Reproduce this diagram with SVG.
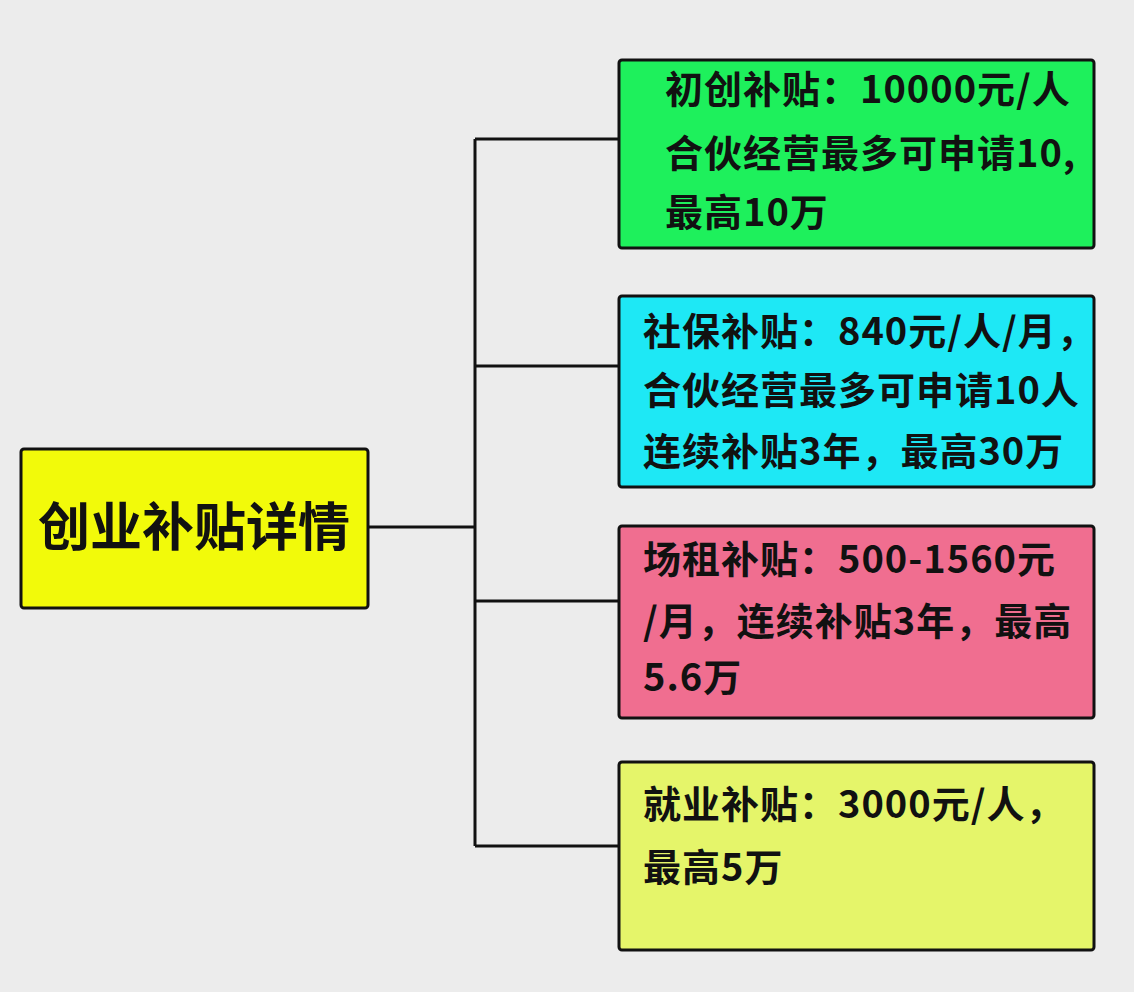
<svg xmlns="http://www.w3.org/2000/svg" width="1134" height="992" viewBox="0 0 1134 992">
<style>
.box{stroke:#111;stroke-width:3}
.t{font-family:"Noto Sans CJK SC","Noto Sans",sans-serif;font-weight:bold;font-size:38px;fill:#111;letter-spacing:1px}
.title{font-size:52px;letter-spacing:0}
.conn{fill:none;stroke:#111;stroke-width:3}
</style>
<rect width="1134" height="992" fill="#ececec"/>
<g id="connectors">
<path class="conn" d="M368 527 H475 M475 139 V846 M475 139 H619 M475 366 H619 M475 601 H619 M475 846 H619"/>
</g>
<g id="root">
<rect class="box" x="21" y="449" width="347" height="159" rx="3" fill="#f2fa0a"/>
<text class="t title" x="38" y="546">创业补贴详情</text>
</g>
<g id="n1">
<rect class="box" x="619" y="60" width="475" height="188" rx="3" fill="#1ef05c"/>
<text class="t" x="665" y="103">初创补贴：10000元/人</text>
<text class="t" x="665" y="167">合伙经营最多可申请10,</text>
<text class="t" x="665" y="226">最高10万</text>
</g>
<g id="n2">
<rect class="box" x="619" y="296" width="475" height="191" rx="3" fill="#1ee8f5"/>
<text class="t" x="643" y="345">社保补贴：840元/人/月，</text>
<text class="t" x="643" y="404">合伙经营最多可申请10人</text>
<text class="t" x="643" y="465">连续补贴3年，最高30万</text>
</g>
<g id="n3">
<rect class="box" x="619" y="526" width="475" height="192" rx="3" fill="#f06e90"/>
<text class="t" x="643" y="573">场租补贴：500-1560元</text>
<text class="t" x="643" y="635">/月，连续补贴3年，最高</text>
<text class="t" x="643" y="691">5.6万</text>
</g>
<g id="n4">
<rect class="box" x="619" y="762" width="475" height="188" rx="3" fill="#e5f56a"/>
<text class="t" x="643" y="818">就业补贴：3000元/人，</text>
<text class="t" x="643" y="881">最高5万</text>
</g>
</svg>
